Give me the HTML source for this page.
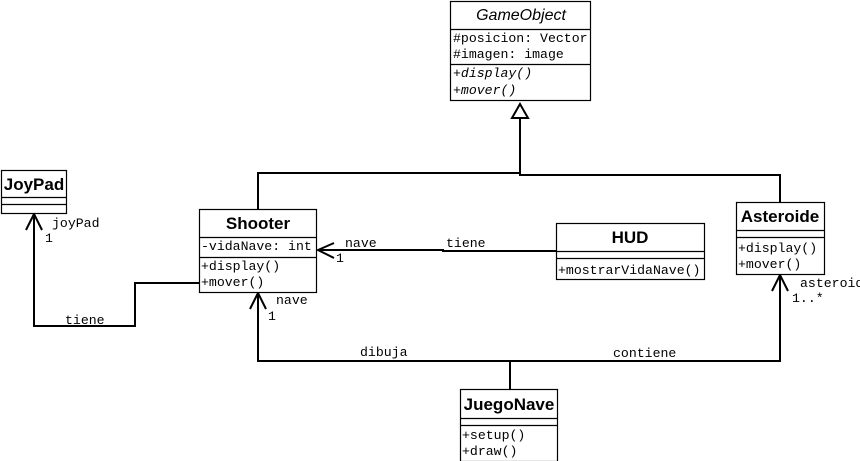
<!DOCTYPE html>
<html><head><style>
body{margin:0;background:#fff}
svg{display:block}
.m{font-family:"Liberation Mono",monospace;font-size:13.2px;fill:#000}
.b{font-family:"Liberation Sans",sans-serif;font-weight:bold;font-size:17px;fill:#000}
.i{font-family:"Liberation Sans",sans-serif;font-style:italic;font-size:16px;fill:#000}
.bx{fill:#fff;stroke:#000;stroke-width:1.2}
.ln{stroke:#000;stroke-width:1.2}
.c{fill:none;stroke:#000;stroke-width:2}
</style></head><body>
<svg width="860" height="461" viewBox="0 0 860 461">
<path class="c" d="M520 118 V173 H258 V209 M520 173 V175 H780 V202"/>
<polygon points="520,104 512,118 528,118" fill="#fff" stroke="#000" stroke-width="2"/>
<path class="c" d="M199 283 H135 V326 H34 V214"/>
<path class="c" d="M26 230 L34 214 L42 230"/>
<path class="c" d="M556 251 H443 V250 H318"/>
<path class="c" d="M334 243 L318 250 L334 258"/>
<path class="c" d="M510 389 V361 H258 V293"/>
<path class="c" d="M250 309 L258 293 L266 309"/>
<path class="c" d="M510 361 H780 V275"/>
<path class="c" d="M772 291 L780 275 L788 291"/>
<rect class="bx" x="450.5" y="1.5" width="140" height="99"/>
<line class="ln" x1="450" y1="29.5" x2="591" y2="29.5"/>
<line class="ln" x1="450" y1="64.5" x2="591" y2="64.5"/>
<text class="i" x="521" y="20" text-anchor="middle">GameObject</text>
<text class="m" x="453" y="42">#posicion: Vector</text>
<text class="m" x="453" y="58">#imagen: image</text>
<text class="m" x="453" y="77" font-style="italic">+display()</text>
<text class="m" x="453" y="94" font-style="italic">+mover()</text>
<rect class="bx" x="1.5" y="170.5" width="65" height="43"/>
<line class="ln" x1="1" y1="197.5" x2="67" y2="197.5"/>
<line class="ln" x1="1" y1="204.5" x2="67" y2="204.5"/>
<text class="b" x="34" y="190" text-anchor="middle">JoyPad</text>
<rect class="bx" x="199.5" y="209.5" width="117" height="83"/>
<line class="ln" x1="199" y1="237.5" x2="317" y2="237.5"/>
<line class="ln" x1="199" y1="257.5" x2="317" y2="257.5"/>
<text class="b" x="258" y="229" text-anchor="middle">Shooter</text>
<text class="m" x="201" y="250">-vidaNave: int</text>
<text class="m" x="201" y="270">+display()</text>
<text class="m" x="201" y="286">+mover()</text>
<rect class="bx" x="556.5" y="223.5" width="148" height="56"/>
<line class="ln" x1="556" y1="251.5" x2="705" y2="251.5"/>
<line class="ln" x1="556" y1="258.5" x2="705" y2="258.5"/>
<text class="b" x="630" y="243" text-anchor="middle">HUD</text>
<text class="m" x="558" y="274">+mostrarVidaNave()</text>
<rect class="bx" x="736.5" y="202.5" width="88" height="72"/>
<line class="ln" x1="736" y1="230.5" x2="825" y2="230.5"/>
<line class="ln" x1="736" y1="237.5" x2="825" y2="237.5"/>
<text class="b" x="780" y="222" text-anchor="middle">Asteroide</text>
<text class="m" x="738" y="252">+display()</text>
<text class="m" x="738" y="268">+mover()</text>
<rect class="bx" x="460.5" y="389.5" width="97" height="72"/>
<line class="ln" x1="460" y1="418.5" x2="558" y2="418.5"/>
<line class="ln" x1="460" y1="425.5" x2="558" y2="425.5"/>
<text class="b" x="509" y="410" text-anchor="middle">JuegoNave</text>
<text class="m" x="462" y="439">+setup()</text>
<text class="m" x="462" y="455">+draw()</text>
<text class="m" x="52" y="227">joyPad</text>
<text class="m" x="45" y="242">1</text>
<text class="m" x="65" y="324">tiene</text>
<text class="m" x="345" y="247">nave</text>
<text class="m" x="336" y="262">1</text>
<text class="m" x="446" y="247">tiene</text>
<text class="m" x="276" y="304">nave</text>
<text class="m" x="268" y="320">1</text>
<text class="m" x="360" y="356">dibuja</text>
<text class="m" x="613" y="357">contiene</text>
<text class="m" x="800" y="287">asteroides</text>
<text class="m" x="792" y="302">1..*</text>
</svg>
</body></html>
